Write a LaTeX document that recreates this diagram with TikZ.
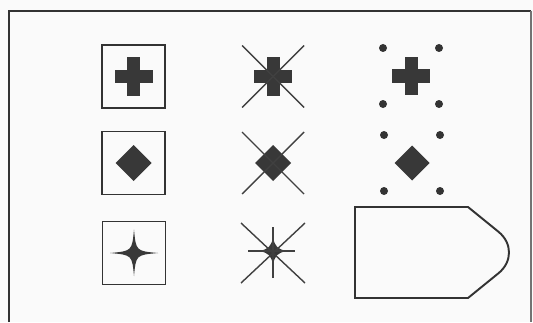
\documentclass[tikz,border=0pt]{standalone}
\usepackage{tikz}
\usetikzlibrary{calc}

\tikzset{
  symfill/.style={fill=black!78},
  boxline/.style={draw=black!80, line width=1.1pt},
  crossline/.style={draw=black!75, line width=0.8pt},
}

\begin{document}
\begin{tikzpicture}
    % Define coordinates
    \useasboundingbox (0,0) rectangle (10.66,-6.44);
    \fill[black!2] (0,0) rectangle (10.66,-6.44);
    \coordinate (A1) at (2.67,-1.53);
    \coordinate (A2) at (2.67,-3.26);
    \coordinate (A3) at (2.68,-5.06);
    \coordinate (B1) at (5.46,-1.53);
    \coordinate (B2) at (5.46,-3.26);
    \coordinate (B3) at (5.46,-5.02);
    \coordinate (C1) at (8.22,-1.52);
    \coordinate (C2) at (8.24,-3.26);

    % Outer frame (cut off at the bottom)
    \draw[black!80, line width=1.4pt] (0.18,-6.44) -- (0.18,-0.22) -- (10.62,-0.22);
    \draw[black!55, line width=1pt] (10.62,-0.22) -- (10.62,-6.44);

    % Boxed symbols
    \draw[boxline] ($(A1)+(-0.63,-0.63)$) rectangle ($(A1)+(0.63,0.63)$);
    \draw[boxline] ($(A2)+(-0.63,-0.63)$) rectangle ($(A2)+(0.63,0.63)$);
    \draw[boxline] ($(A3)+(-0.63,-0.63)$) rectangle ($(A3)+(0.63,0.63)$);

    % Plus signs
    \fill[symfill] ($(A1)+(-0.38,-0.13)$) rectangle ($(A1)+(0.38,0.13)$);
    \fill[symfill] ($(A1)+(-0.13,-0.38)$) rectangle ($(A1)+(0.13,0.38)$);
    \fill[symfill] ($(B1)+(-0.38,-0.13)$) rectangle ($(B1)+(0.38,0.13)$);
    \fill[symfill] ($(B1)+(-0.13,-0.38)$) rectangle ($(B1)+(0.13,0.38)$);
    \fill[symfill] ($(C1)+(-0.38,-0.13)$) rectangle ($(C1)+(0.38,0.13)$);
    \fill[symfill] ($(C1)+(-0.13,-0.38)$) rectangle ($(C1)+(0.13,0.38)$);

    % Diamonds
    \fill[symfill] (A2) ++(0.36,0) -- ++(-0.36,0.36) -- ++(-0.36,-0.36) -- ++(0.36,-0.36) -- cycle;
    \fill[symfill] (B2) ++(0.36,0) -- ++(-0.36,0.36) -- ++(-0.36,-0.36) -- ++(0.36,-0.36) -- cycle;
    \fill[symfill] (C2) ++(0.35,0) -- ++(-0.35,0.35) -- ++(-0.35,-0.35) -- ++(0.35,-0.35) -- cycle;

    % Four-pointed stars
    \fill[symfill] (A3) ++(0,0.47) .. controls ++(0.04,-0.43) .. ++(0.48,-0.47)
        .. controls ++(-0.44,-0.04) .. ++(-0.48,-0.46)
        .. controls ++(-0.04,0.42) .. ++(-0.48,0.46)
        .. controls ++(0.44,0.04) .. cycle;
    \fill[symfill] (B3) ++(0,0.24) .. controls ++(0.07,-0.17) .. ++(0.24,-0.24)
        .. controls ++(-0.17,-0.07) .. ++(-0.24,-0.24)
        .. controls ++(-0.07,0.17) .. ++(-0.24,0.24)
        .. controls ++(0.17,0.07) .. cycle;

    % Crossing lines
    \draw[crossline] ($(B1)+(-0.62,-0.62)$) -- ($(B1)+(0.62,0.62)$);
    \draw[crossline] ($(B1)+(-0.62,0.62)$) -- ($(B1)+(0.62,-0.62)$);
    \draw[crossline] ($(B2)+(-0.62,-0.62)$) -- ($(B2)+(0.62,0.62)$);
    \draw[crossline] ($(B2)+(-0.62,0.62)$) -- ($(B2)+(0.62,-0.62)$);
    \draw[crossline] ($(B3)+(-0.64,-0.64)$) -- ($(B3)+(0.64,0.56)$);
    \draw[crossline] ($(B3)+(-0.64,0.56)$) -- ($(B3)+(0.64,-0.64)$);
    \draw[crossline, line width=1.1pt] ($(B3)+(0,-0.54)$) -- ($(B3)+(0,0.48)$);
    \draw[crossline, line width=1.1pt] ($(B3)+(-0.5,0)$) -- ($(B3)+(0.44,0)$);

    % Corner dots
    \foreach \c in {C1,C2} {
        \fill[black!80] ($(\c)+(-0.56,0.56)$) circle (0.08);
        \fill[black!80] ($(\c)+(0.56,0.56)$) circle (0.08);
        \fill[black!80] ($(\c)+(-0.56,-0.56)$) circle (0.08);
        \fill[black!80] ($(\c)+(0.56,-0.56)$) circle (0.08);
    }

    % Tag shape
    \draw[boxline] (7.10,-4.14) -- (9.36,-4.14)
        [rounded corners=0.66cm] -- (10.48,-5.05)
        [sharp corners] -- (9.36,-5.96) -- (7.10,-5.96) -- cycle;
\end{tikzpicture}
\end{document}
